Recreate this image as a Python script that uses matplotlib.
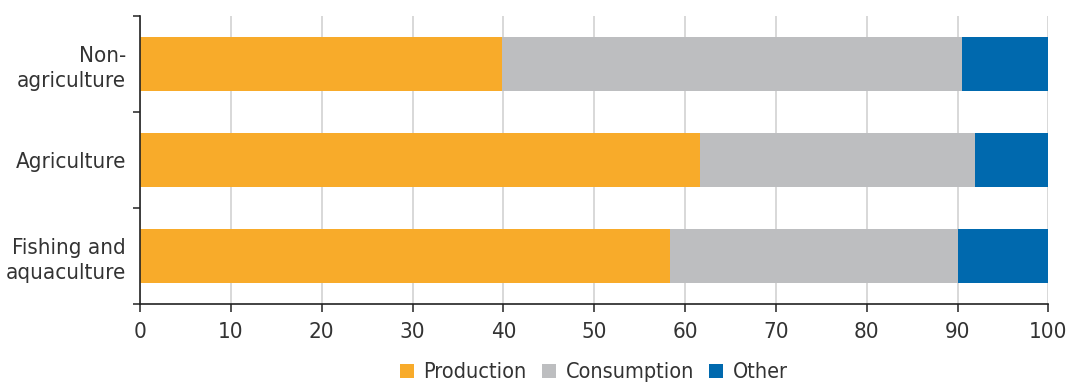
import matplotlib
matplotlib.use("Agg")
import matplotlib.pyplot as plt
from matplotlib.patches import Patch

# data (shares in %, bottom to top)
categories = ["Fishing and\naquaculture", "Agriculture", "Non-\nagriculture"]
production = [58.4, 61.6, 39.8]
consumption = [31.7, 30.3, 50.7]
other = [9.9, 8.1, 9.5]
series_names = ["Production", "Consumption", "Other"]
colors = ["#F8AB2A", "#BDBEC0", "#0069AE"]
xticks = [0, 10, 20, 30, 40, 50, 60, 70, 80, 90, 100]

plt.rcParams['font.family'] = ['DejaVu Sans']
plt.rcParams['font.stretch'] = 'condensed'
text_color = '#333333'
fs = 16

fig = plt.figure(figsize=(10.68, 3.84), dpi=100)
ax = fig.add_axes([0.1311, 0.2083, 0.9816 - 0.1311, 0.9583 - 0.2083])

ypos = list(range(len(categories)))
left = [0] * len(categories)
for values, color in zip([production, consumption, other], colors):
    ax.barh(ypos, values, left=left, height=0.5625, color=color, zorder=2)
    left = [l + v for l, v in zip(left, values)]

ax.set_xlim(0, 100)
ax.set_ylim(-0.5, len(categories) - 0.5)
ax.set_xticks(xticks)
ax.set_xticklabels([str(t) for t in xticks])

ax.set_yticks(ypos)
ax.set_yticklabels(categories, ha='right', linespacing=1.3)
ax.set_yticks([y - 0.5 for y in ypos] + [ypos[-1] + 0.5], minor=True)
ax.tick_params(axis='y', which='major', length=0, pad=10, labelsize=fs, labelcolor=text_color)
ax.tick_params(axis='y', which='minor', length=5, width=1.1, color='#222222', direction='out')
ax.tick_params(axis='x', which='major', length=6, width=1.1, color='#222222', pad=7,
               labelsize=fs, labelcolor=text_color)

ax.grid(axis='x', color='#d5d5d5', linewidth=1.3, zorder=0)
ax.set_axisbelow(True)
for side in ['top', 'right']:
    ax.spines[side].set_visible(False)
for side in ['left', 'bottom']:
    ax.spines[side].set_color('#222222')
    ax.spines[side].set_linewidth(1.2)

handles = [Patch(facecolor=c, edgecolor='none') for c in colors]
fig.legend(handles, series_names, loc='center', bbox_to_anchor=(0.556, 0.03),
           ncol=3, frameon=False, fontsize=15.5, labelcolor=text_color,
           handlelength=0.65, handleheight=0.65, handletextpad=0.45,
           columnspacing=0.7, borderpad=0)

fig.savefig("out.png", dpi=100)
